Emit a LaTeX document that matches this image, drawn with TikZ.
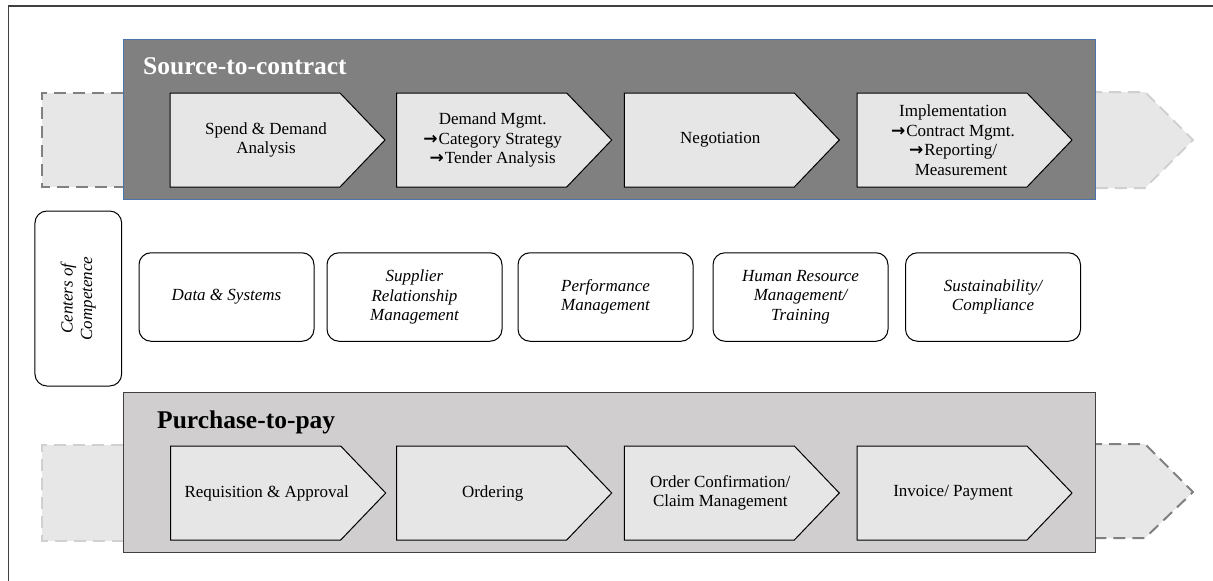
\documentclass[tikz,border=0pt]{standalone}
\usepackage{fontspec}
\setmainfont{Liberation Serif}
\newfontfamily\arrowfont{DejaVu Sans}
\newcommand\myarr{{\arrowfont\bfseries →}\kern1pt}
\definecolor{bandtop}{RGB}{128,128,128}
\definecolor{bandtopline}{RGB}{75,115,170}
\definecolor{bandbot}{RGB}{208,206,206}
\definecolor{chevfill}{RGB}{230,230,230}
\definecolor{dashfill}{RGB}{231,231,231}
\definecolor{dashdark}{RGB}{128,128,128}
\definecolor{dashlight}{RGB}{208,208,208}
\definecolor{framecol}{RGB}{64,64,64}
\tikzset{
  bodyfont/.style={font=\fontsize{17}{19.5}\selectfont},
  chevbox/.style={draw=black, line width=1pt, fill=chevfill, line join=miter},
  chevtext/.style={bodyfont, align=center, inner sep=0pt, text=black},
  dashshape/.style={line width=2pt, dash pattern=on 12pt off 7pt},
  cocbox/.style={draw=black, line width=1pt, rounded corners=12pt, fill=white,
    minimum width=175pt, minimum height=88.5pt, align=center,
    font=\fontsize{17}{19.5}\selectfont\itshape},
  titletext/.style={font=\fontsize{25.5}{28}\selectfont\bfseries, inner sep=0pt, anchor=base west}
}
\newcommand\mychev[4]{%
  \draw[chevbox] (#2,#3-47) -- ++(170,0) -- ++(45,47) -- ++(-45,47) -- ++(-170,0) -- cycle;
  \node[chevtext] (#1) at (#2+96,#3) {#4};
}
\begin{document}
\begin{tikzpicture}[x=1pt,y=-1pt]
\useasboundingbox (0,0) rectangle (1213,581);
% outer frame (left and top edges visible)
\draw[framecol, line width=1.2pt] (8.5,581) -- (8.5,6) -- (1213,6);

% dashed continuation shapes, top
\fill[dashfill] (123,93) rectangle (42,187);
\draw[dashshape, draw=dashdark] (123,93) -- (42,93) -- (42,187) -- (123,187);
\fill[dashfill] (1090,92) -- (1145,92) -- (1193,140) -- (1145,188) -- (1090,188) -- cycle;
\draw[dashshape, draw=dashlight] (1090,92) -- (1145,92) -- (1193,140) -- (1145,188) -- (1090,188);

% dashed continuation shapes, bottom
\fill[dashfill] (123,445) rectangle (42,541);
\draw[dashshape, draw=dashlight] (123,445) -- (42,445) -- (42,541) -- (123,541);
\fill[dashfill] (1090,444) -- (1145,444) -- (1193,492) -- (1145,538) -- (1090,538) -- cycle;
\draw[dashshape, draw=dashdark] (1090,444) -- (1145,444) -- (1193,492) -- (1145,538) -- (1090,538);

% Source-to-contract band
\draw[fill=bandtop, draw=bandtopline, line width=1pt] (123,39) rectangle (1095,199);
\node[titletext, text=white] (s2c) at (143,74) {Source-to-contract};
\mychev{t1}{170}{140}{Spend \& Demand\\Analysis}
\mychev{t2}{396.7}{140}{Demand Mgmt.\\\myarr Category Strategy\\\myarr Tender Analysis}
\mychev{t3}{624.3}{140}{Negotiation}
\mychev{t4}{857}{140}{Implementation\\\myarr Contract Mgmt.\\\myarr Reporting/\\\hspace*{16pt}Measurement}

% Centers of competence
\node[cocbox, rotate=90, minimum width=175pt, minimum height=86.7pt] (coc) at (78.3,298.5) {Centers of\\Competence};
\node[cocbox] (c1) at (226.5,297) {Data \& Systems};
\node[cocbox] (c2) at (414.5,297) {Supplier\\Relationship\\Management};
\node[cocbox] (c3) at (605.5,297) {Performance\\Management};
\node[cocbox] (c4) at (800.5,297) {Human Resource\\Management/\\Training};
\node[cocbox] (c5) at (993,297) {Sustainability/\\Compliance};

% Purchase-to-pay band
\draw[fill=bandbot, draw=framecol, line width=1pt] (123,392) rectangle (1095,552);
\node[titletext, text=black] (p2p) at (157,428) {Purchase-to-pay};
\mychev{b1}{170.7}{493}{Requisition \& Approval}
\mychev{b2}{396.7}{493}{Ordering}
\mychev{b3}{624.3}{493}{Order Confirmation/\\Claim Management}
\mychev{b4}{857}{493}{Invoice/ Payment}
\end{tikzpicture}
\end{document}
